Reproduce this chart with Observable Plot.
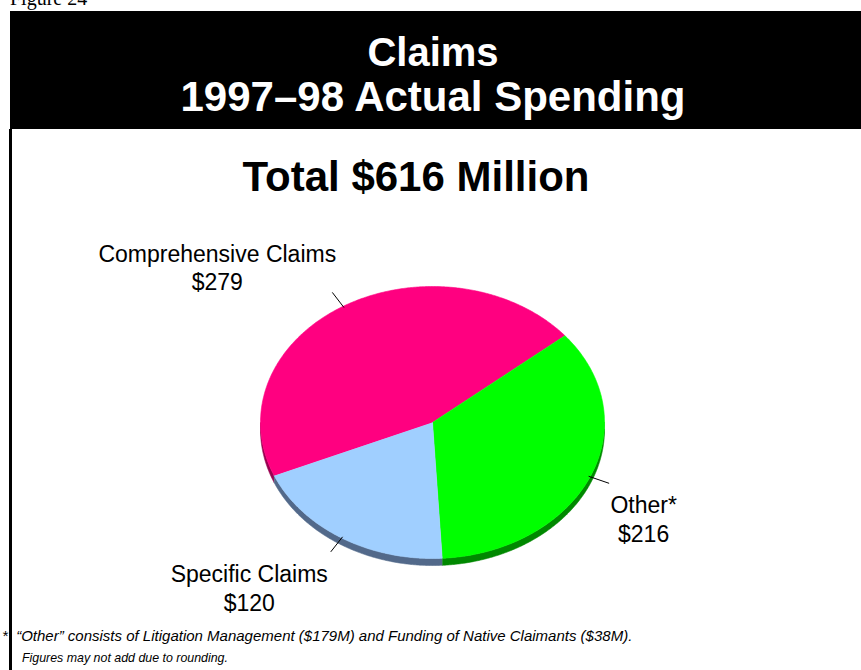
<!DOCTYPE html>
<html><head><meta charset="utf-8">
<script src="https://cdn.jsdelivr.net/npm/d3@7"></script>
<script src="https://cdn.jsdelivr.net/npm/@observablehq/plot@0.6"></script>
<style>
body{margin:0;background:#fff;}
#page{position:relative;width:861px;height:670px;overflow:hidden;font-family:"Liberation Sans",Arial,Helvetica,sans-serif;background:#fff;}
#fig{position:absolute;left:10px;top:-12.5px;font-family:"Liberation Serif","Times New Roman",serif;font-size:20px;line-height:20px;white-space:nowrap;}
#header{position:absolute;left:10px;top:11px;width:851px;height:118px;background:#000;color:#fff;font-weight:bold;}
#header div{position:absolute;left:0;width:846px;text-align:center;white-space:nowrap;}
#chart{position:absolute;left:0;top:130px;}
#total{position:absolute;left:0;width:832px;top:155.5px;text-align:center;font-weight:bold;font-size:42px;line-height:42px;white-space:nowrap;}
#border{position:absolute;left:9px;top:129px;width:3px;height:541px;background:#000;}
.fn{position:absolute;font-style:italic;white-space:nowrap;}
#fn1{left:2px;top:627.5px;font-size:15px;line-height:15px;}
#fn2{left:22px;top:651.5px;font-size:12.4px;line-height:12.4px;}
</style></head><body>
<div id="page">
  <div id="fig">Figure 24</div>
  <div id="header"><div style="top:21px;font-size:40px;line-height:40px">Claims</div><div style="top:64.5px;font-size:42px;line-height:42px">1997–98 Actual Spending</div></div>
  <div id="chart"></div>
  <div id="total">Total $616 Million</div>
  <div id="border"></div>
  <div class="fn" id="fn1">*&nbsp;&nbsp;“Other” consists of Litigation Management ($179M) and Funding of Native Claimants ($38M).</div>
  <div class="fn" id="fn2">Figures may not add due to rounding.</div>
</div>
<script>
// ---- data ----
const categories = ["Comprehensive Claims", "Other*", "Specific Claims"];
const values = [279, 216, 120];
const valueLabels = ["$279", "$216", "$120"];

// ---- styling / layout config ----
const topColors = ["#ff0080", "#00ff00", "#a0cfff"];
const sideColors = ["#9a0050", "#008800", "#52698a"];
const labelOffsets = [[-115, -25.5], [34.5, 35], [-81.5, 35.5]];
const startDeg = 247;
const depth = 0.0515;
const deg = Math.PI / 180;

const data = categories.map((c, i) => ({i, name: c, value: values[i], label: c + "\n" + valueLabels[i]}));
const arcs = d3.pie().sort(null).value(d => d.value)
  .startAngle(startDeg * deg).endAngle(startDeg * deg + 2 * Math.PI)(data);

function arcPoints(a0, a1, dy) {
  const n = Math.max(2, Math.ceil(Math.abs(a1 - a0) / (0.5 * deg)));
  const pts = [];
  for (let j = 0; j <= n; j++) {
    const t = a0 + (a1 - a0) * j / n;
    pts.push([Math.sin(t), Math.cos(t) - dy]);
  }
  return pts;
}

// top faces
const topPts = [];
arcs.forEach(a => {
  const i = a.data.i;
  topPts.push({k: "t" + i, x: 0, y: 0, c: topColors[i]});
  arcPoints(a.startAngle, a.endAngle, 0).forEach(([x, y]) => topPts.push({k: "t" + i, x, y, c: topColors[i]}));
});

// side walls (visible lower half only)
const sidePts = [];
arcs.forEach(a => {
  const i = a.data.i;
  for (let k = 0; k < 2; k++) {
    const lo = Math.PI / 2 + 2 * Math.PI * k, hi = 3 * Math.PI / 2 + 2 * Math.PI * k;
    const u = Math.max(lo, a.startAngle), v = Math.min(hi, a.endAngle);
    if (v > u) {
      const key = "s" + i + "_" + k;
      arcPoints(u, v, 0).forEach(([x, y]) => sidePts.push({k: key, x, y, c: sideColors[i]}));
      arcPoints(v, u, depth).forEach(([x, y]) => sidePts.push({k: key, x, y, c: sideColors[i]}));
    }
  }
});

// leader lines & label anchors
const r1 = 0.99, r2 = 1.12;
const leaders = arcs.map(a => {
  const m = (a.startAngle + a.endAngle) / 2;
  return {i: a.data.i, label: a.data.label,
    x1: r1 * Math.sin(m), y1: r1 * Math.cos(m),
    x2: r2 * Math.sin(m), y2: r2 * Math.cos(m)};
});

const textMarks = leaders.map(d => Plot.text([d], {
  x: "x2", y: "y2", text: "label",
  dx: labelOffsets[d.i][0], dy: labelOffsets[d.i][1],
  fontSize: 23, lineHeight: 1.25, textAnchor: "middle", lineAnchor: "middle",
  fill: "black", fontFamily: "Liberation Sans, Arial, sans-serif"
}));

const chart = Plot.plot({
  width: 861, height: 500, margin: 0,
  x: {domain: [-1, 1], range: [260, 604], axis: null},
  y: {domain: [-1, 1], range: [428, 156], axis: null},
  color: {type: "identity"},
  style: {background: "transparent", overflow: "visible"},
  marks: [
    Plot.line(sidePts, {x: "x", y: "y", z: "k", fill: "c", stroke: "c", strokeWidth: 0.6, curve: "linear"}),
    Plot.line(topPts, {x: "x", y: "y", z: "k", fill: "c", stroke: "c", strokeWidth: 0.6, curve: "linear"}),
    Plot.link(leaders, {x1: "x1", y1: "y1", x2: "x2", y2: "y2", stroke: "black", strokeWidth: 1}),
    ...textMarks
  ]
});
document.getElementById("chart").appendChild(chart);
</script>
</body></html>
